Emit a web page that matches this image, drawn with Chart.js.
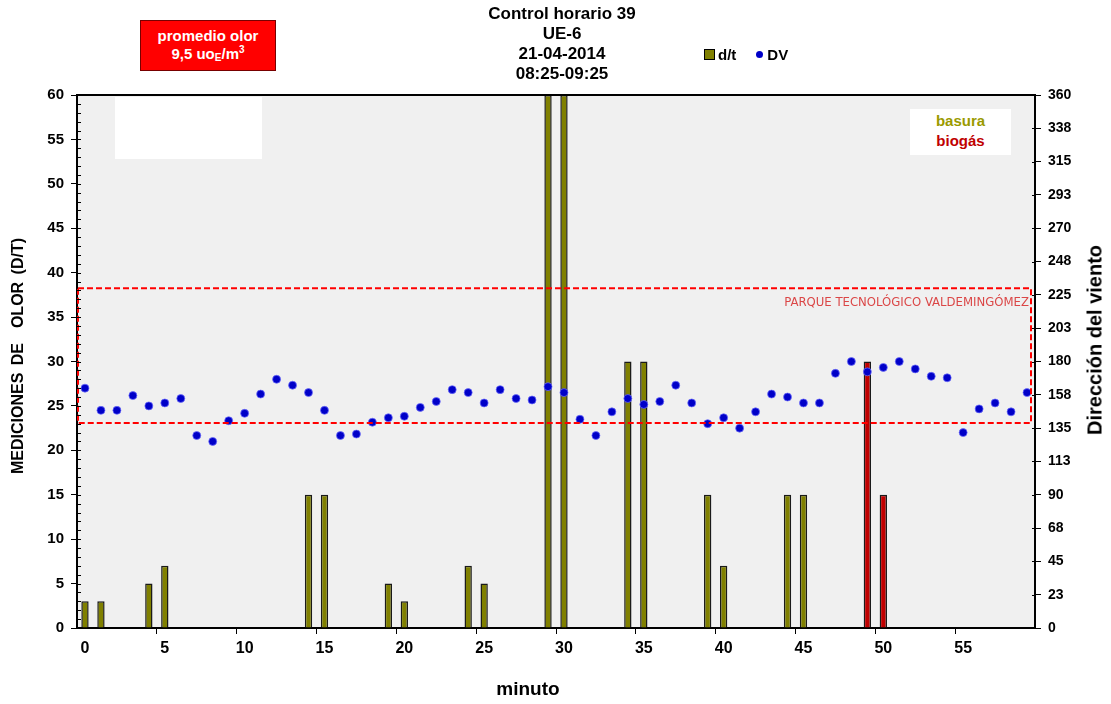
<!DOCTYPE html>
<html lang="es">
<head>
<meta charset="utf-8">
<title>Control horario 39</title>
<script src="https://cdn.jsdelivr.net/npm/chart.js@4.4.1/dist/chart.umd.min.js"></script>
<style>
  body { margin: 0; background: #fff; font-family: 'Liberation Sans', Arial, sans-serif; }
  #wrap { position: relative; width: 1111px; height: 704px; overflow: hidden; }
  #chart { position: absolute; left: 0; top: 0; }
  .abs { position: absolute; color: #000; font-weight: bold; white-space: nowrap; }
  #titulo { left: 412px; width: 300px; top: 4px; text-align: center; font-size: 17px; line-height: 20px; }
  #promedio { left: 140px; top: 20px; width: 134px; background: #ff0000; border: 1px solid #700;
    color: #fff; text-align: center; font-size: 15px; line-height: 18px; padding-top: 6px; height: 43px; }
  #promedio sub { font-size: 10px; vertical-align: -2px; line-height: 0; }
  #promedio sup { font-size: 10px; vertical-align: 6px; line-height: 0; }
  #leyenda { left: 704px; top: 46px; font-size: 15px; line-height: 18px; }
  #leyenda .sq { display: inline-block; width: 9px; height: 9px; background: #808000; border: 1px solid #000; margin-right: 3px; vertical-align: 0px; }
  #leyenda .dot { display: inline-block; width: 7px; height: 7px; border-radius: 50%; background: #0000c8; margin: 0 4px 1px 20px; vertical-align: 1px; }
  #blanco { position: absolute; left: 115px; top: 97px; width: 147px; height: 62px; background: #fff; }
  #fuentes { position: absolute; left: 910px; top: 109px; width: 101px; height: 46px; background: #fff; text-align: center;
    font-weight: bold; font-size: 15px; line-height: 20px; padding-top: 2px; box-sizing: border-box; }
  #ejeIzq { left: 18px; top: 356px; font-size: 16px; word-spacing: 3px; transform: translate(-50%, -50%) rotate(-90deg); }
  #ejeDer { left: 1095px; top: 340px; font-size: 20px; transform: translate(-50%, -50%) rotate(-90deg); }
  #ejeX { left: 528px; top: 689px; font-size: 19px; transform: translate(-50%, -50%); }
</style>
</head>
<body>
<div id="wrap">
  <canvas id="chart" width="1111" height="704"></canvas>
  <div id="titulo" class="abs">Control horario 39<br>UE-6<br>21-04-2014<br>08:25-09:25</div>
  <div id="promedio" class="abs">promedio olor<br>9,5 uo<sub>E</sub>/m<sup>3</sup></div>
  <div id="leyenda" class="abs"><span class="sq"></span>d/t<span class="dot"></span>DV</div>
  <div id="blanco"></div>
  <div id="fuentes"><span style="color:#9a9a00">basura</span><br><span style="color:#c00000">biogás</span></div>
  <div id="ejeIzq" class="abs">MEDICIONES DE&nbsp; OLOR (D/T)</div>
  <div id="ejeDer" class="abs">Dirección del viento</div>
  <div id="ejeX" class="abs">minuto</div>
</div>
<script>
// minutos de la hora de control
const minutos = [0, 1, 2, 3, 4, 5, 6, 7, 8, 9, 10, 11, 12, 13, 14, 15, 16, 17, 18, 19,
  20, 21, 22, 23, 24, 25, 26, 27, 28, 29, 30, 31, 32, 33, 34, 35, 36, 37, 38, 39,
  40, 41, 42, 43, 44, 45, 46, 47, 48, 49, 50, 51, 52, 53, 54, 55, 56, 57, 58, 59];

// mediciones de olor d/t por minuto
const dt = [3, 3, 0, 0, 5, 7, 0, 0, 0, 0, 0, 0, 0, 0, 15, 15, 0, 0, 0, 5,
  3, 0, 0, 0, 7, 5, 0, 0, 0, 60, 60, 0, 0, 0, 30, 30, 0, 0, 0, 15,
  7, 0, 0, 0, 15, 15, 0, 0, 0, 30, 15, 0, 0, 0, 0, 0, 0, 0, 0, 0];

// minutos en que el olor se atribuye a biogás (resto: basura)
const minutosBiogas = [49, 50];

// dirección del viento (grados)
const dv = [162, 147, 147, 157, 150, 152, 155, 130, 126, 140, 145, 158, 168, 164, 159, 147, 130, 131, 139, 142,
  143, 149, 153, 161, 159, 152, 161, 155, 154, 163, 159, 141, 130, 146, 155, 151, 153, 164, 152, 138,
  142, 135, 146, 158, 156, 152, 152, 172, 180, 173, 176, 180, 175, 170, 169, 132, 148, 152, 146, 159];

// sector de dirección del Parque Tecnológico Valdemingómez (grados)
const sectorParque = [138.5, 229.5];
const textoParque = 'PARQUE TECNOLÓGICO VALDEMINGÓMEZ';

const OLIVA = '#808000';
const ROJO = '#c00000';
const fuente = "'Liberation Sans', Arial, sans-serif";

const colorBarras = minutos.map(m => minutosBiogas.includes(m) ? ROJO : OLIVA);

// fondo gris y marco
const fondo = {
  id: 'fondo',
  beforeDraw(chart) {
    const { ctx, chartArea: a } = chart;
    ctx.save();
    ctx.fillStyle = '#f0f0f0';
    ctx.fillRect(a.left, a.top, a.right - a.left, a.bottom - a.top);
    ctx.restore();
  },
  afterDraw(chart) {
    const { ctx, chartArea: a, scales } = chart;
    ctx.save();
    ctx.strokeStyle = '#000';
    ctx.lineWidth = 2;
    ctx.beginPath();
    ctx.moveTo(a.left - 1, a.top);
    ctx.lineTo(a.right + 1, a.top);
    ctx.stroke();
    // marcas menores hacia dentro en el eje izquierdo
    ctx.lineWidth = 1;
    ctx.beginPath();
    for (let v = 0; v <= 60; v++) {
      const y = Math.round(scales.y.getPixelForValue(v)) + 0.5;
      ctx.moveTo(a.left, y);
      ctx.lineTo(a.left + 4, y);
    }
    for (let v = 0; v <= 360; v += 22.5) {
      const y = Math.round(scales.y1.getPixelForValue(v)) + 0.5;
      ctx.moveTo(a.right - 3, y);
      ctx.lineTo(a.right, y);
    }
    ctx.stroke();
    ctx.restore();
  }
};

// recuadro discontinuo del sector del parque
const sector = {
  id: 'sector',
  afterDatasetsDraw(chart) {
    const { ctx, chartArea: a, scales } = chart;
    const yTop = scales.y1.getPixelForValue(sectorParque[1]);
    const yBot = scales.y1.getPixelForValue(sectorParque[0]);
    ctx.save();
    ctx.strokeStyle = '#ff0000';
    ctx.lineWidth = 2;
    ctx.setLineDash([6, 3]);
    ctx.strokeRect(a.left + 1, yTop, a.right - a.left - 5, yBot - yTop);
    ctx.setLineDash([]);
    ctx.fillStyle = 'rgba(215, 40, 40, 0.85)';
    ctx.font = "13px 'Liberation Sans Narrow', 'DejaVu Sans Condensed', sans-serif";
    ctx.textAlign = 'right';
    ctx.textBaseline = 'middle';
    ctx.fillText(textoParque, a.right - 6, yTop + 14);
    ctx.restore();
  }
};

new Chart(document.getElementById('chart'), {
  data: {
    labels: minutos,
    datasets: [
      {
        type: 'line',
        label: 'DV',
        data: dv,
        yAxisID: 'y1',
        showLine: false,
        pointRadius: 4,
        pointBackgroundColor: '#0000c8',
        pointBorderColor: 'rgba(110, 110, 255, 0.7)',
        pointBorderWidth: 1,
        order: 1
      },
      {
        type: 'bar',
        label: 'd/t',
        data: dt,
        yAxisID: 'y',
        backgroundColor: colorBarras,
        borderColor: '#1a1a1a',
        borderWidth: 1.5,
        barPercentage: 0.46,
        categoryPercentage: 1,
        order: 2
      }
    ]
  },
  options: {
    responsive: false,
    devicePixelRatio: 1,
    animation: false,
    layout: { padding: { top: 95, left: 0, right: 0, bottom: 0 } },
    plugins: {
      legend: { display: false },
      tooltip: { enabled: false }
    },
    scales: {
      x: {
        type: 'category',
        offset: true,
        afterFit: s => { s.height = 76; },
        border: { color: '#000', width: 2 },
        grid: {
          offset: true,
          drawOnChartArea: false,
          tickLength: 6,
          color: ctx => (ctx.index > 0 && ctx.index % 5 === 0) ? '#000' : 'rgba(0,0,0,0)'
        },
        ticks: {
          autoSkip: false,
          maxRotation: 0,
          padding: 5,
          color: '#000',
          font: { family: fuente, size: 16, weight: 'bold' },
          callback: (v, i) => i % 5 === 0 ? String(minutos[i]) : ''
        }
      },
      y: {
        position: 'left',
        min: 0,
        max: 60,
        afterFit: s => { s.width = 77; },
        border: { color: '#000', width: 2 },
        grid: { drawOnChartArea: false, tickLength: 6, color: '#000' },
        ticks: {
          stepSize: 5,
          padding: 7,
          color: '#000',
          font: { family: fuente, size: 15, weight: 'bold' }
        }
      },
      y1: {
        position: 'right',
        min: 0,
        max: 360,
        afterFit: s => { s.width = 76; },
        afterBuildTicks: s => {
          s.ticks = [];
          for (let v = 0; v <= 360; v += 22.5) s.ticks.push({ value: v });
        },
        border: { color: '#000', width: 2 },
        grid: { drawOnChartArea: false, tickLength: 6, color: '#000' },
        ticks: {
          padding: 7,
          color: '#000',
          font: { family: fuente, size: 14, weight: 'bold' },
          callback: v => String(Math.round(v))
        }
      }
    }
  },
  plugins: [fondo, sector]
});
</script>
</body>
</html>
